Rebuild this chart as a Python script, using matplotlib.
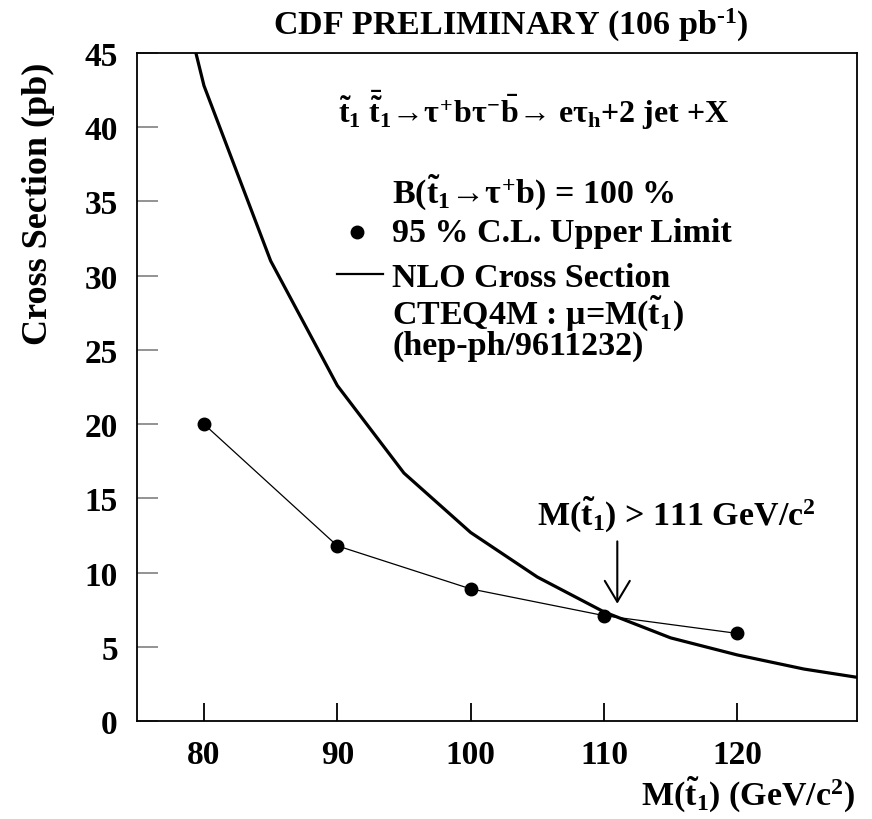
import matplotlib
matplotlib.use('Agg')
import matplotlib.pyplot as plt

plt.rcParams['font.family'] = ['Liberation Serif', 'DejaVu Serif']
plt.rcParams['font.weight'] = 'bold'
plt.rcParams['mathtext.fontset'] = 'custom'
plt.rcParams['mathtext.rm'] = 'Liberation Serif:bold'
plt.rcParams['mathtext.it'] = 'Liberation Serif:bold'
plt.rcParams['mathtext.bf'] = 'Liberation Serif:bold'
plt.rcParams['mathtext.sf'] = 'Liberation Serif:bold'
plt.rcParams['mathtext.fallback'] = 'stix'

# ---- data ----
mass_limit = [80, 90, 100, 110, 120]
xsec_limit = [20.0, 11.8, 8.9, 7.1, 5.9]
mass_nlo = [75, 80, 85, 90, 95, 100, 105, 110, 115, 120, 125, 130]
xsec_nlo = [61.0, 42.8, 31.0, 22.6, 16.7, 12.7, 9.7, 7.35, 5.6, 4.45, 3.5, 2.8]
xticks = [80, 90, 100, 110, 120]
yticks = [0, 5, 10, 15, 20, 25, 30, 35, 40, 45]
mass_bound = 111
arrow_top, arrow_tip = 12.1, 7.9

W, H = 872, 820
FS = 24.5


def px(x, y):
    return (x / W, 1 - y / H)


fig = plt.figure(figsize=(W / 100, H / 100), dpi=100)
ax = fig.add_axes([137.3 / W, 1 - 722 / H, (857.3 - 137.3) / W, (722 - 54) / H])
ax.set_xlim(75, 129)
ax.set_ylim(0, 45)

ax.plot(mass_nlo, xsec_nlo, color='black', lw=2.3, solid_joinstyle='round')
ax.plot(mass_limit, xsec_limit, color='black', lw=0.9, marker='o', ms=9,
        mfc='black', mec='black')

ax.annotate('', xy=(mass_bound, arrow_tip), xytext=(mass_bound, arrow_top),
            arrowprops=dict(arrowstyle='->,head_length=0.75,head_width=0.45',
                            lw=1.5, color='black', shrinkA=0, shrinkB=0,
                            mutation_scale=20))

ax.set_xticks(xticks)
ax.set_xticklabels([str(v) for v in xticks])
ax.set_yticks(yticks)
ax.set_yticklabels([str(v) for v in yticks])
ax.tick_params(axis='x', direction='in', length=13, width=1.3, color='black',
               labelsize=24, pad=13)
ax.tick_params(axis='y', direction='in', length=15, width=1.2, color='#808080',
               labelsize=24, pad=14)
for lab in ax.get_xticklabels() + ax.get_yticklabels():
    lab.set_fontweight('bold')
for s in ax.spines.values():
    s.set_linewidth(1.3)

# ---- texts ----
fig.text(*px(273, 35), r'CDF PRELIMINARY (106 pb$^{\text{-}1}$)', fontsize=FS,
         ha='left', va='baseline')
fig.text(*px(855, 805), r'M($\tilde{t}_1$) (GeV/c$^2$)', fontsize=FS,
         ha='right', va='baseline')
fig.text(*px(38, 204), 'Cross Section (pb)', fontsize=26, rotation=90,
         ha='center', va='center')

fig.text(*px(338, 123),
         '$\\tilde{t}_1$ $\\bar{\\tilde{t}}_1$\u2192$\\tau^{+}$b$\\tau^{-}\\bar{b}$\u2192 e$\\tau_h$+2 jet +X',
         fontsize=23, ha='left', va='baseline')
fig.text(*px(392, 203), 'B($\\tilde{t}_1$\u2192$\\tau^{+}$b) = 100 %',
         fontsize=FS, ha='left', va='baseline')
ax.plot([px(357, 233)[0]], [px(357, 233)[1]], 'o', color='black', ms=9,
        transform=fig.transFigure, clip_on=False)
fig.text(*px(392, 242), '95 % C.L. Upper Limit', fontsize=FS, ha='left',
         va='baseline')
ax.plot([px(337, 275)[0], px(383, 275)[0]], [px(337, 275)[1], px(383, 275)[1]],
        color='black', lw=1.6, transform=fig.transFigure, clip_on=False)
fig.text(*px(392, 287), 'NLO Cross Section', fontsize=FS, ha='left',
         va='baseline')
fig.text(*px(392, 324), 'CTEQ4M : \u03bc=M($\\tilde{t}_1$)', fontsize=FS,
         ha='left', va='baseline')
fig.text(*px(392, 355), '(hep-ph/9611232)', fontsize=FS, ha='left',
         va='baseline')
fig.text(*px(537, 525), 'M($\\tilde{t}_1$) > 111 GeV/c$^2$', fontsize=FS,
         ha='left', va='baseline')

fig.savefig('out.png', dpi=100)
